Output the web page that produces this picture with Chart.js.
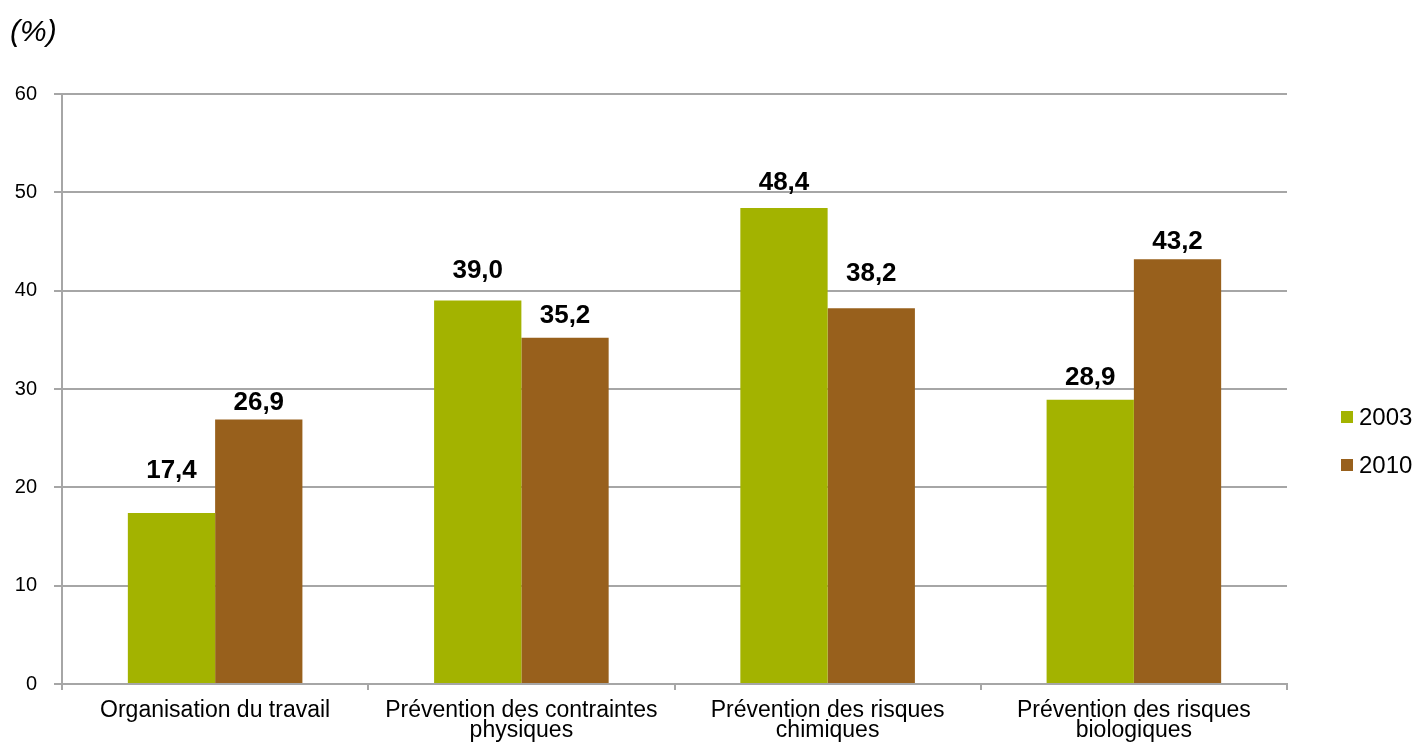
<!DOCTYPE html>
<html>
<head>
<meta charset="utf-8">
<script src="https://cdn.jsdelivr.net/npm/chart.js@4"></script>
<style>
  html, body { margin: 0; padding: 0; background: #fff; }
  #wrap { width: 1419px; height: 747px; }
</style>
</head>
<body>
<div id="wrap"><canvas id="grafico" width="1419" height="747"></canvas></div>
<script>
const categories = [
  'Organisation du travail',
  ['Prévention des contraintes', 'physiques'],
  ['Prévention des risques', 'chimiques'],
  ['Prévention des risques', 'biologiques']
];
const series2003 = [17.4, 39.0, 48.4, 28.9];
const series2010 = [26.9, 35.2, 38.2, 43.2];
const seriesNames = ['2003', '2010'];
const colors = ['#A3B300', '#98601C'];
const yTicks = [0, 10, 20, 30, 40, 50, 60];

const FONT = '"Liberation Sans", Arial, Helvetica, sans-serif';
const gris = '#A6A6A6';

// écart (px) entre le haut de la barre et son étiquette, comme dans l'original
const ecarts = [[35, 23, 18, 15], [9, 15, 27, 10]];

// valeurs au-dessus des barres + légende + "(%)"
const extras = {
  id: 'extras',
  afterDatasetsDraw(chart) {
    const ctx = chart.ctx;
    ctx.save();
    ctx.fillStyle = '#000';
    ctx.font = 'bold 26px ' + FONT;
    ctx.textAlign = 'center';
    ctx.textBaseline = 'alphabetic';
    chart.data.datasets.forEach((ds, i) => {
      chart.getDatasetMeta(i).data.forEach((bar, j) => {
        ctx.fillText(ds.data[j].toFixed(1).replace('.', ','), bar.x, bar.y - ecarts[i][j]);
      });
    });

    // légende
    ctx.font = '24px ' + FONT;
    ctx.textAlign = 'left';
    ctx.textBaseline = 'middle';
    chart.data.datasets.forEach((ds, i) => {
      const y = 417 + i * 48;
      ctx.fillStyle = ds.backgroundColor;
      ctx.fillRect(1341, y - 6, 12, 12);
      ctx.fillStyle = '#000';
      ctx.fillText(ds.label, 1359, y + 1);
    });

    ctx.font = 'italic 30px ' + FONT;
    ctx.fillText('(%)', 10, 33);
    ctx.restore();
  }
};

new Chart(document.getElementById('grafico'), {
  type: 'bar',
  data: {
    labels: categories,
    datasets: [
      { label: seriesNames[0], data: series2003, backgroundColor: colors[0] },
      { label: seriesNames[1], data: series2010, backgroundColor: colors[1] }
    ]
  },
  options: {
    responsive: false,
    animation: false,
    layout: { padding: { top: 94, right: 132, left: 0, bottom: 0 } },
    datasets: { bar: { categoryPercentage: 0.57, barPercentage: 1.0 } },
    plugins: { legend: { display: false }, tooltip: { enabled: false } },
    scales: {
      x: {
        afterFit(s) { s.height = 63; },
        grid: { drawOnChartArea: false, drawTicks: true, tickLength: 6, color: gris, lineWidth: 2 },
        border: { color: gris, width: 2 },
        ticks: { color: '#000', font: { family: FONT, size: 23, lineHeight: 0.9 }, padding: 10, maxRotation: 0, autoSkip: false }
      },
      y: {
        min: 0, max: 60,
        afterFit(s) { s.width = 62; },
        afterBuildTicks(s) { s.ticks = yTicks.map(v => ({ value: v })); },
        grid: { color: gris, lineWidth: 2, tickLength: 8 },
        border: { color: gris, width: 2 },
        ticks: { color: '#000', font: { family: FONT, size: 20 }, padding: 17 }
      }
    }
  },
  plugins: [extras]
});
</script>
</body>
</html>
